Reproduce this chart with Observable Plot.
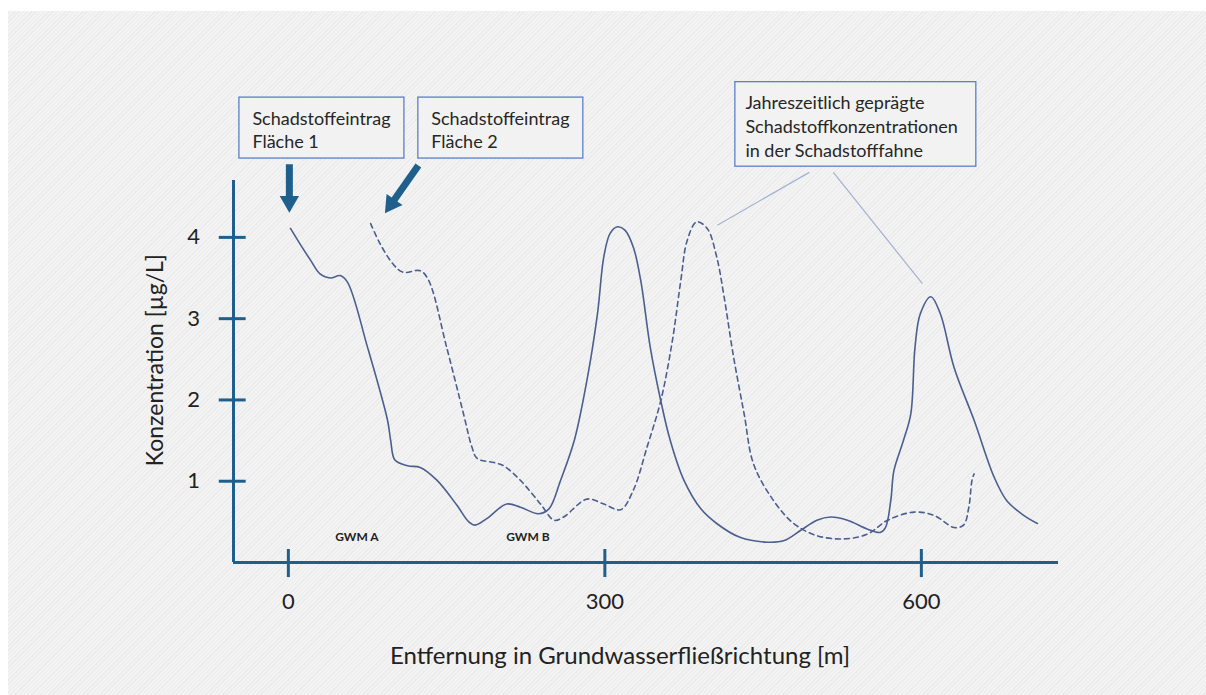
<!DOCTYPE html>
<html>
<head>
<meta charset="utf-8">
<script src="https://cdn.jsdelivr.net/npm/d3@7"></script>
<script src="https://cdn.jsdelivr.net/npm/@observablehq/plot@0.6"></script>
<style>
  html, body { margin: 0; padding: 0; background: #ffffff; }
  #wrap { position: relative; width: 1206px; height: 695px; overflow: hidden; }
  #bg { position: absolute; left: 8px; top: 11px; right: 0; bottom: 0;
        background: repeating-linear-gradient(-45deg, #f3f3f3 0px, #f3f3f3 2px, #ebebeb 2px, #ebebeb 3px); }
  #chart { position: absolute; left: 0; top: 0; }
</style>
</head>
<body>
<div id="wrap"><div id="bg"></div><div id="chart"></div></div>
<script>
// ---- data (x in m, y in µg/L) ----
const solidX = [2,11,21,30,40,49,56,75,94,97,101,113,125,141,160,171,177,188,207,220,237,247,258,271,283,293,299,305,312,319,327,334,343,353,362,375,391,406,428,454,470,485,501,514,530,549,561,566,571,574,583,590,594,599,609,618,631,650,669,681,697,710];
const solidY = [4.11,3.92,3.72,3.55,3.50,3.53,3.45,2.65,1.75,1.50,1.26,1.19,1.17,1.01,0.70,0.50,0.46,0.54,0.72,0.68,0.60,0.66,1.01,1.50,2.24,3.06,3.76,4.05,4.13,4.09,3.88,3.47,2.65,1.99,1.50,1.01,0.66,0.48,0.31,0.25,0.27,0.39,0.52,0.56,0.52,0.41,0.37,0.43,0.76,1.13,1.50,1.83,2.65,3.06,3.27,3.06,2.40,1.75,1.05,0.76,0.58,0.48];

const dashX = [78,87,100,109,125,133,150,166,174,179,195,204,220,239,252,261,283,299,315,327,340,353,364,372,378,387,397,406,413,422,432,441,460,479,501,526,549,568,593,612,631,640,645,648,650];
const dashY = [4.17,3.92,3.66,3.57,3.59,3.47,2.65,1.83,1.42,1.28,1.23,1.19,1.01,0.72,0.52,0.56,0.78,0.72,0.65,0.89,1.42,1.99,2.73,3.47,3.96,4.19,4.11,3.76,3.27,2.53,1.83,1.21,0.76,0.48,0.33,0.29,0.35,0.52,0.62,0.58,0.43,0.46,0.68,1.01,1.09];

const xTicks = [0, 300, 600];
const yTicks = [1, 2, 3, 4];
const xLabel = "Entfernung in Grundwasserfließrichtung [m]";
const yLabel = "Konzentration [µg/L]";
const yLabelX = -126;
const yLabelY = 2.49;

const wellNames = ["GWM A", "GWM B"];
const wellX = [65, 227];
const wellY = [0.31, 0.31];

// annotation boxes (data units)
const boxText = ["Schadstoffeintrag\nFläche 1", "Schadstoffeintrag\nFläche 2", "Jahreszeitlich geprägte\nSchadstoffkonzentrationen\nin der Schadstofffahne"];
const boxX1 = [-46.4, 123.2, 423.7];
const boxX2 = [110.0, 279.6, 652.1];
const boxY1 = [4.97, 4.97, 4.87];
const boxY2 = [5.72, 5.72, 5.91];
const boxTextX = [-34.1, 135.5, 433.2];
const boxTextY = [5.33, 5.33, 5.38];
const boxLineHeight = [1.25, 1.25, 1.35];

// arrows (shaft start, shaft end, head centre, head rotation)
const arrowX1 = [0.95, 123.2];
const arrowY1 = [4.90, 4.886];
const arrowX2 = [0.95, 98.6];
const arrowY2 = [4.455, 4.43];
const headX = [0.95, 97.6];
const headY = [4.44, 4.41];
const headRotate = [180, 215];

// leader lines from the seasonal box to the peaks
const leadX1 = [493.8, 516.6];
const leadY1 = [4.80, 4.80];
const leadX2 = [406.6, 601.0];
const leadY2 = [4.15, 3.43];

// ---- build tables ----
const solid = solidX.map((x, i) => ({x, y: solidY[i]}));
const dashed = dashX.map((x, i) => ({x, y: dashY[i]}));
const wells = wellNames.map((t, i) => ({t, x: wellX[i], y: wellY[i]}));
const boxes = boxText.map((t, i) => ({t, x1: boxX1[i], x2: boxX2[i], y1: boxY1[i], y2: boxY2[i], tx: boxTextX[i], ty: boxTextY[i], lh: boxLineHeight[i]}));
const arrows = arrowX1.map((x1, i) => ({x1, y1: arrowY1[i], x2: arrowX2[i], y2: arrowY2[i], hx: headX[i], hy: headY[i], r: headRotate[i]}));
const leads = leadX1.map((x1, i) => ({x1, y1: leadY1[i], x2: leadX2[i], y2: leadY2[i]}));

const AX = "#1f5f8c";
const CURVE = "#4b5f8e";
const FONT = "Lato, 'Open Sans', sans-serif";

const chart = Plot.plot({
  width: 1206,
  height: 695,
  marginLeft: 233,
  marginRight: 148,
  marginTop: 180,
  marginBottom: 133,
  style: {background: "transparent", fontFamily: FONT, overflow: "visible"},
  x: {domain: [-52, 730], axis: null},
  y: {domain: [0, 4.7], axis: null},
  marks: [
    // axis lines
    Plot.ruleX([-52], {stroke: AX, strokeWidth: 3}),
    Plot.ruleY([0], {stroke: AX, strokeWidth: 3}),
    // crossing ticks
    Plot.ruleY(yTicks, {y: d => d, x1: -65.5, x2: -40, stroke: AX, strokeWidth: 3}),
    Plot.ruleX(xTicks, {x: d => d, y1: 0.16, y2: -0.185, stroke: AX, strokeWidth: 3, clip: false}),
    // tick labels
    Plot.text(yTicks, {y: d => d, text: d => String(d), frameAnchor: "left", dx: -40, fontSize: 22, fill: "#222", textAnchor: "middle"}),
    Plot.text(xTicks, {x: d => d, text: d => String(d), frameAnchor: "bottom", dy: 46, fontSize: 22, fill: "#222"}),
    // axis titles
    Plot.text([yLabel], {x: yLabelX, y: yLabelY, text: d => d, rotate: -90, fontSize: 23, fill: "#222"}),
    Plot.text([xLabel], {text: d => d, frameAnchor: "bottom", dx: -26, dy: 101, fontSize: 24, fill: "#222"}),
    // curves
    Plot.line(solid, {x: "x", y: "y", curve: "catmull-rom", stroke: CURVE, strokeWidth: 1.6, clip: false}),
    Plot.line(dashed, {x: "x", y: "y", curve: "catmull-rom", stroke: CURVE, strokeWidth: 1.6, strokeDasharray: "5,4", clip: false}),
    // well labels
    Plot.text(wells, {x: "x", y: "y", text: "t", fontSize: 12, fontWeight: "bold", fill: "#222"}),
    // leader lines
    Plot.link(leads, {x1: "x1", y1: "y1", x2: "x2", y2: "y2", stroke: "#a3b3cf", strokeWidth: 1.2}),
    // boxes
    Plot.rect(boxes, {x1: "x1", x2: "x2", y1: "y1", y2: "y2", fill: "#f2f2f2", stroke: "#5b7fc8", strokeWidth: 1.3}),
    ...boxes.map(b => Plot.text([b], {x: "tx", y: "ty", text: "t", textAnchor: "start", lineAnchor: "middle", lineHeight: b.lh, fontSize: 18, fill: "#262626"})),
    // arrows
    Plot.link(arrows, {x1: "x1", y1: "y1", x2: "x2", y2: "y2", stroke: AX, strokeWidth: 7}),
    Plot.dot(arrows, {x: "hx", y: "hy", rotate: "r", symbol: "triangle", r: 7.2, fill: AX, stroke: "none"})
  ]
});
document.getElementById("chart").appendChild(chart);
</script>
</body>
</html>
